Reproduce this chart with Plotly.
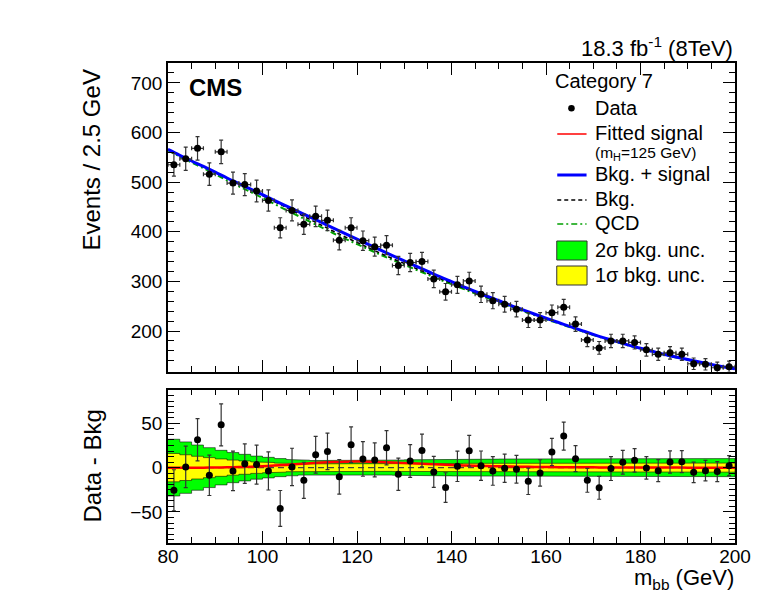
import numpy as np
import plotly.graph_objects as go

# ---------------- data ----------------
bin_edges = np.arange(80.0, 200.01, 2.5)          # 2.5 GeV bins, 80-200 GeV
bin_centers = (bin_edges[:-1] + bin_edges[1:]) / 2

data_counts = [535, 547, 568, 516, 561, 498, 495, 482, 463, 408, 443, 415,
               431, 423, 383, 408, 382, 370, 373, 332, 338, 340, 305, 279,
               293, 301, 274, 261, 254, 244, 222, 222, 237, 248, 214, 182,
               166, 180, 180, 177, 162, 153, 156, 153, 134, 133, 126, 128]

residuals = [-25.5, 0.8, 31.5, -8.7, 48.3, -3.7, 4.5, 3.4, -3.7, -46.0, 0.8, -14.3,
             14.6, 18.3, -10.4, 25.8, 9.8, 8.7, 22.5, -7.5, 7.5, 19.4, -4.8, -22.5,
             1.5, 19.1, 2.2, -3.7, -0.8, -1.9, -15.4, -6.0, 17.6, 35.6, 10.1, -14.3,
             -22.8, -1.1, 6.0, 8.2, -0.3, -3.4, 6.4, 6.7, -5.3, -3.4, -4.5, 2.2]

# background-only fit, sampled at the bin edges
bkg_curve = [566, 554, 542.5, 531.5, 520, 508, 496.5, 485, 473, 461,
             449, 437, 425, 413, 401, 389.5, 378.5, 367.5, 356.5, 346,
             336, 326, 316, 306, 296.5, 287, 277.5, 268.5, 259.5, 250.5,
             242, 233.5, 225, 217, 209, 201, 193, 185.5, 178.5, 171.5,
             165, 159, 153, 147.5, 142.5, 137.5, 132.5, 128, 124]

# fitted signal (mH = 125 GeV), sampled at the bin edges
signal_curve = [0, 0, 0, 0, 0.1, 0.3, 0.6, 1.0, 1.6, 2.3,
                3.1, 4.0, 4.9, 5.7, 6.3, 6.7, 6.8, 6.7, 6.4, 5.9,
                5.3, 4.6, 4.0, 3.4, 2.9, 2.5, 2.1, 1.8, 1.5, 1.2,
                1.0, 0.8, 0.7, 0.55, 0.45, 0.35, 0.3, 0.25, 0.2, 0.15,
                0.1, 0.1, 0.05, 0.05, 0, 0, 0, 0, 0]

# non-QCD backgrounds (difference between Bkg. and QCD), at bin edges
other_bkg = [2, 2.5, 3, 3.5, 4, 4.5, 5, 5, 5, 5,
             5, 4.8, 4.5, 4.2, 4, 3.7, 3.5, 3.2, 3, 2.8,
             2.6, 2.5, 2.4, 2.2, 2.1, 2, 1.9, 1.8, 1.7, 1.6,
             1.5, 1.4, 1.3, 1.3, 1.2, 1.1, 1.1, 1, 1, 0.9,
             0.9, 0.8, 0.8, 0.7, 0.7, 0.6, 0.6, 0.5, 0.5]

# background-uncertainty bands (half widths per bin)
band_2sigma = [32, 29, 25.5, 22.5, 19.5, 17, 15, 13, 11.6, 10.2, 9.2, 8.4,
               8.0, 7.8, 7.8, 7.9, 8.0, 8.2, 8.4, 8.6, 8.8, 9.0, 9.2, 9.3,
               9.4, 9.5, 9.6, 9.6, 9.7, 9.7, 9.7, 9.7, 9.8, 9.8, 9.8, 9.8,
               9.8, 9.9, 9.9, 9.9, 9.9, 10.0, 10.0, 10.0, 10.1, 10.1, 10.2, 10.2]
band_1sigma = [16, 14.5, 12.8, 11.3, 9.8, 8.5, 7.5, 6.5, 5.8, 5.1, 4.6, 4.2,
               4.0, 3.9, 3.9, 4.0, 4.0, 4.1, 4.2, 4.3, 4.4, 4.5, 4.6, 4.7,
               4.7, 4.8, 4.8, 4.8, 4.9, 4.9, 4.9, 4.9, 4.9, 4.9, 4.9, 4.9,
               4.9, 5.0, 5.0, 5.0, 5.0, 5.0, 5.0, 5.0, 5.1, 5.1, 5.1, 5.1]

# ---------------- derived quantities ----------------
data_err = np.sqrt(np.array(data_counts, dtype=float))
bkg = np.array(bkg_curve)
sig = np.array(signal_curve)
qcd = bkg - np.array(other_bkg)
bkg_sig = bkg + sig


def step_band(half):
    xs, up = [], []
    for i, h in enumerate(half):
        xs += [bin_edges[i], bin_edges[i + 1]]
        up += [h, h]
    return xs + xs[::-1], up + [-v for v in up[::-1]]


FONT = "Liberation Sans, Arial, Helvetica, sans-serif"
W, H = 763, 595
ML, MR, MT, MB = 168, 24, 63, 52
DASH = "4px,3px"
DASHDOT = "6px,3px,2px,3px"


def px(x):
    return (x - ML) / (W - ML - MR)


def py(y):
    return (H - MB - y) / (H - MT - MB)


fig = go.Figure()

# ---------------- top panel ----------------
fig.add_trace(go.Scatter(x=bin_edges, y=qcd, mode="lines", xaxis="x", yaxis="y",
                         line=dict(color="#00a000", width=2, dash=DASHDOT),
                         line_shape="spline", showlegend=False))
fig.add_trace(go.Scatter(x=bin_edges, y=bkg, mode="lines", xaxis="x", yaxis="y",
                         line=dict(color="black", width=1.5, dash=DASH),
                         line_shape="spline", showlegend=False))
fig.add_trace(go.Scatter(x=bin_edges, y=bkg_sig, mode="lines", xaxis="x", yaxis="y",
                         line=dict(color="#0000ff", width=3),
                         line_shape="spline", showlegend=False))
fig.add_trace(go.Scatter(x=bin_centers, y=data_counts, mode="markers", xaxis="x", yaxis="y",
                         marker=dict(color="black", size=7),
                         error_y=dict(type="data", array=data_err, color="#333333",
                                      thickness=1.2, width=2),
                         error_x=dict(type="constant", value=1.25, color="#333333",
                                      thickness=1.2, width=2),
                         showlegend=False))

# ---------------- bottom panel ----------------
bx, by = step_band(band_2sigma)
fig.add_trace(go.Scatter(x=bx, y=by, mode="lines", fill="toself", xaxis="x2", yaxis="y2",
                         fillcolor="#00ff00", line=dict(color="rgba(0,0,0,0.55)", width=1),
                         showlegend=False, hoverinfo="skip"))
bx, by = step_band(band_1sigma)
fig.add_trace(go.Scatter(x=bx, y=by, mode="lines", fill="toself", xaxis="x2", yaxis="y2",
                         fillcolor="#ffff00", line=dict(color="rgba(0,0,0,0.55)", width=1),
                         showlegend=False, hoverinfo="skip"))
fig.add_trace(go.Scatter(x=bin_edges, y=bkg - bkg, mode="lines", xaxis="x2", yaxis="y2",
                         line=dict(color="#444444", width=1.3, dash="6px,4px"),
                         showlegend=False))
fig.add_trace(go.Scatter(x=bin_edges, y=sig, mode="lines", xaxis="x2", yaxis="y2",
                         line=dict(color="#ff0000", width=2.5), line_shape="spline",
                         showlegend=False))
fig.add_trace(go.Scatter(x=bin_centers, y=residuals, mode="markers", xaxis="x2", yaxis="y2",
                         marker=dict(color="black", size=7),
                         error_y=dict(type="data", array=data_err, color="#333333",
                                      thickness=1.2, width=2),
                         showlegend=False))

axis_common = dict(showline=True, linecolor="black", linewidth=1.5, mirror="allticks",
                   ticks="inside", ticklen=12, tickwidth=1.2, tickcolor="black",
                   showgrid=False, zeroline=False,
                   tickfont=dict(family=FONT, size=19, color="black"))

top_lo, bot_hi = py(371.7), py(389.6)

fig.update_layout(
    width=W, height=H, margin=dict(l=ML, r=MR, t=MT, b=MB),
    paper_bgcolor="white", plot_bgcolor="white",
    font=dict(family=FONT, size=19, color="black"),
    xaxis=dict(range=[80, 200], domain=[0, 1], anchor="y", showticklabels=False,
               tick0=0, dtick=20, minor=dict(dtick=5, ticklen=6, ticks="inside",
                                             tickcolor="black"),
               **axis_common),
    yaxis=dict(range=[118, 740], domain=[top_lo, 1], anchor="x",
               tick0=0, dtick=100, minor=dict(dtick=20, ticklen=6, ticks="inside",
                                              tickcolor="black"),
               **axis_common),
    xaxis2=dict(range=[80, 200], domain=[0, 1], anchor="y2", matches="x",
                tick0=0, dtick=20, ticklabelstandoff=-5,
                minor=dict(dtick=5, ticklen=6, ticks="inside", tickcolor="black"),
                **axis_common),
    yaxis2=dict(range=[-85, 88], domain=[0, bot_hi], anchor="x2",
                tick0=0, dtick=50, minor=dict(dtick=6.25, ticklen=6, ticks="inside",
                                              tickcolor="black"),
                **axis_common),
)


def text(t, x, y, size, xanchor="left", yanchor="middle", angle=0):
    return dict(text=t, x=px(x), y=py(y), xref="paper", yref="paper",
                xanchor=xanchor, yanchor=yanchor, textangle=angle, showarrow=False,
                font=dict(family=FONT, size=size, color="black"))


ann = []
# axis titles
ann.append(text("Events / 2.5 GeV", 91, 160, 24, "center", "middle", -90))
ann.append(text("Data - Bkg", 91, 466, 24, "center", "middle", -90))
ann.append(text("m<sub>bb</sub> (GeV)", 740, 595, 22, "right", "bottom"))
# header texts
ann.append(text("18.3 fb<sup>-1</sup> (8TeV)", 739, 47, 22, "right", "middle"))
ann.append(text("<b>CMS</b>", 187, 87, 24, "left", "middle"))

# legend (drawn by hand, ROOT style)
LX = 596
ann.append(text("Category 7", 556, 81, 20))
legend_rows = [("Data", 108), ("Fitted signal", 133), ("Bkg. + signal", 174),
               ("Bkg.", 199), ("QCD", 223), ("2σ bkg. unc.", 250), ("1σ bkg. unc.", 275)]
for label, yy in legend_rows:
    ann.append(text(label, LX, yy, 20))
ann.append(text("(m<sub>H</sub>=125 GeV)", LX, 153, 15.5))

shapes = []
shapes.append(dict(type="circle", xref="paper", yref="paper",
                   x0=px(571), x1=px(577.6), y0=py(111.6), y1=py(105),
                   fillcolor="black", line=dict(color="black", width=0)))
shapes.append(dict(type="line", xref="paper", yref="paper", x0=px(560), x1=px(589.5),
                   y0=py(134), y1=py(134), line=dict(color="#ff0000", width=1.5)))
shapes.append(dict(type="line", xref="paper", yref="paper", x0=px(560), x1=px(589.5),
                   y0=py(175), y1=py(175), line=dict(color="#0000ff", width=3)))
shapes.append(dict(type="line", xref="paper", yref="paper", x0=px(560), x1=px(589.5),
                   y0=py(200), y1=py(200), line=dict(color="black", width=1.5, dash=DASH)))
shapes.append(dict(type="line", xref="paper", yref="paper", x0=px(560), x1=px(589.5),
                   y0=py(224), y1=py(224), line=dict(color="#00a000", width=1.5, dash=DASHDOT)))
shapes.append(dict(type="rect", xref="paper", yref="paper", x0=px(559.5), x1=px(590),
                   y0=py(260), y1=py(241), fillcolor="#00ff00",
                   line=dict(color="#333333", width=1)))
shapes.append(dict(type="rect", xref="paper", yref="paper", x0=px(559.5), x1=px(590),
                   y0=py(285), y1=py(266), fillcolor="#ffff00",
                   line=dict(color="#333333", width=1)))

fig.update_layout(annotations=ann, shapes=shapes)

fig.write_html("out.html")
